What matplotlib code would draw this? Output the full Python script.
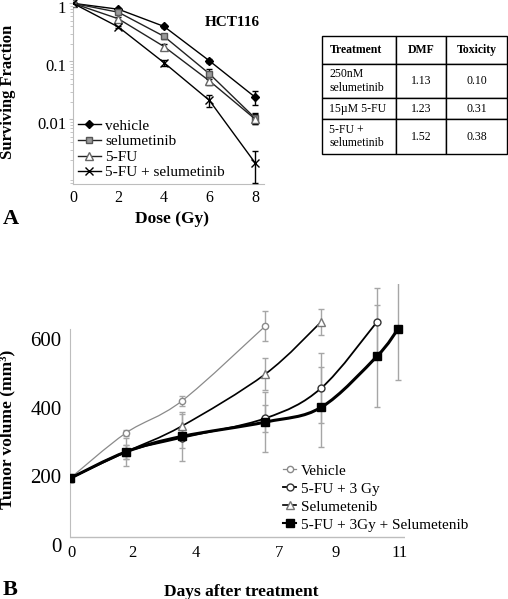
import numpy as np
import matplotlib
matplotlib.use('Agg')
import matplotlib.pyplot as plt
from matplotlib.path import Path
from matplotlib.patches import PathPatch
from matplotlib.lines import Line2D
from matplotlib.transforms import ScaledTranslation

plt.rcParams['font.family'] = ['Liberation Serif', 'DejaVu Serif']

# ---- panel A: clonogenic survival ----
dose = [0, 2, 4, 6, 8]
sf_vehicle = [1.0, 0.79, 0.40, 0.102, 0.0243]
sf_vehicle_err = [0.02, 0.03, 0.03, 0.008, 0.0067]
sf_selu = [1.0, 0.70, 0.27, 0.061, 0.0106]
sf_selu_err = [0.02, 0.03, 0.03, 0.012, 0.0022]
sf_5fu = [1.0, 0.54, 0.18, 0.046, 0.0102]
sf_5fu_err = [0.02, 0.03, 0.02, 0.0075, 0.002]
sf_combo = [1.0, 0.39, 0.095, 0.0212, 0.0018]
sf_combo_err = [0.02, 0.02, 0.012, 0.0046, 0.001]
sf_labels = ['vehicle', 'selumetinib', '5-FU', '5-FU + selumetinib']

# ---- DMF table ----
table_cols = ['Treatment', 'DMF', 'Toxicity']
table_treat = ['250nM\nselumetinib', '15µM 5-FU', '5-FU +\nselumetinib']
table_dmf = ['1.13', '1.23', '1.52']
table_tox = ['0.10', '0.31', '0.38']

# ---- panel B: tumour growth ----
days_vehicle = [0, 2, 4, 7]
vol_vehicle = [194, 326, 419, 638]
err_vehicle = [12, 10, 15, 43]
days_fu3 = [0, 2, 4, 7, 9, 11]
vol_fu3 = [194, 271, 312, 369, 457, 650]
err_fu3 = [10, 20, 30, 40, 102, 98]
days_selu = [0, 2, 4, 7, 9]
vol_selu = [194, 271, 346, 498, 650]
err_selu = [10, 20, 35, 47, 38]
days_combo = [0, 2, 4, 7, 9, 11, 11.75]
vol_combo = [194, 271, 316, 358, 401, 550, 629]
err_combo = [10, 40, 71, 88, 117, 148, 148]
b_labels = ['Vehicle', '5-FU + 3 Gy', 'Selumetenib', '5-FU + 3Gy + Selumetenib']
day_ticklabels = ['0', '2', '4', '7', '9', '11']
day_tickpos = [0.05, 2.25, 4.5, 7.5, 9.5, 11.82]


def smooth_path(x, y):
    # Excel-like smoothed line (Catmull-Rom -> cubic Bezier)
    p = np.column_stack([x, y]).astype(float)
    n = len(p)
    verts = [p[0]]
    for i in range(n - 1):
        p0 = p[i - 1] if i > 0 else p[i]
        p3 = p[i + 2] if i + 2 < n else p[i + 1]
        verts.append(p[i] + (p[i + 1] - p0) / 6)
        verts.append(p[i + 1] - (p3 - p[i]) / 6)
        verts.append(p[i + 1])
    codes = [Path.MOVETO] + [Path.CURVE4] * (3 * (n - 1))
    return Path(verts, codes)


fig = plt.figure(figsize=(5.08, 5.99), dpi=100)
gray = '#bdbdbd'

# ---------------- panel A ----------------
ax1 = fig.add_axes([73 / 508, 1 - 184 / 599, 191 / 508, 184 / 599])
styles = [
    dict(marker='D', ms=4.5, mfc='black', mec='black', color='black'),
    dict(marker='s', ms=5, mfc='#9a9a9a', mec='#555555', color='#222222'),
    dict(marker='^', ms=5.5, mfc='white', mec='#666666', color='#222222'),
    dict(marker='x', ms=6, mfc='black', mec='black', color='black'),
]
handles = []
for vals, errs, st in zip([sf_vehicle, sf_selu, sf_5fu, sf_combo],
                          [sf_vehicle_err, sf_selu_err, sf_5fu_err, sf_combo_err],
                          styles):
    c = ax1.errorbar(dose, vals, yerr=errs, lw=1, elinewidth=1, capsize=2.5,
                     ecolor='black', zorder=3, **st)
    handles.append(c[0])

ax1.set_yscale('log')
ax1.set_ylim(0.00077, 1.14)
ax1.set_xlim(0, 8.4)
ax1.set_yticks([1, 0.1, 0.01])
ax1.set_yticklabels(['1', '0.1', '0.01'])
ax1.set_xticks(dose)
ax1.tick_params(axis='y', which='major', labelsize=12, length=3, color=gray, pad=2)
ax1.tick_params(axis='y', which='minor', length=2, color=gray)
ax1.tick_params(axis='x', labelsize=11.5, length=0, pad=4.5)
shift = ScaledTranslation(0, -3.5 / 100, fig.dpi_scale_trans)
for lab in ax1.get_yticklabels():
    lab.set_transform(lab.get_transform() + shift)
for s in ['top', 'right']:
    ax1.spines[s].set_visible(False)
for s in ['left', 'bottom']:
    ax1.spines[s].set_color(gray)
ax1.set_xlabel('Dose (Gy)', fontsize=12.5, fontweight='bold')
ax1.xaxis.set_label_coords(0.518, -0.145)
ax1.set_ylabel('Surviving Fraction', fontsize=12, fontweight='bold')
ax1.yaxis.set_label_coords(-0.30, 0.5)
ax1.text(0.832, 0.88, 'HCT116', transform=ax1.transAxes, ha='center',
         va='center', fontsize=11, fontweight='bold')
ax1.legend(handles, sf_labels, loc='lower left', bbox_to_anchor=(0.0, 0.0),
           frameon=False, fontsize=11, handlelength=1.5, handletextpad=0.3,
           labelspacing=0.12, borderpad=0.1, borderaxespad=0.2)
fig.text(0.006, 1 - 219 / 599, 'A', fontsize=16, fontweight='bold', va='center')

# ---------------- table ----------------
ax3 = fig.add_axes([322 / 508, 1 - 154 / 599, 185 / 508, 118 / 599])
ax3.axis('off')
cell_text = [[t, d, x] for t, d, x in zip(table_treat, table_dmf, table_tox)]
tab = ax3.table(cellText=cell_text, colLabels=table_cols, bbox=[0, 0, 1, 1],
                colWidths=[0.4, 0.27, 0.33], cellLoc='center')
tab.auto_set_font_size(False)
tab.set_fontsize(8.5)
row_h = [28, 34, 21, 35]
for (r, c), cell in tab.get_celld().items():
    cell.set_height(row_h[r] / 118)
    cell.set_linewidth(1)
    cell.set_edgecolor('black')
    if c == 0:
        cell.get_text().set_ha('left')
        cell._loc = 'left'
    if r == 0:
        cell.get_text().set_fontweight('bold')

# ---------------- panel B ----------------
ax2 = fig.add_axes([70 / 508, 1 - 545 / 599, 335 / 508, 261 / 599])
series = [
    (days_vehicle, vol_vehicle, err_vehicle, '#8a8a8a', 0.9,
     dict(marker='o', ms=4.5, mfc='white', mec='#8a8a8a')),
    (days_fu3, vol_fu3, err_fu3, 'black', 1.3,
     dict(marker='o', ms=5, mfc='white', mec='#333333')),
    (days_selu, vol_selu, err_selu, 'black', 1.2,
     dict(marker='^', ms=5.5, mfc='white', mec='#777777')),
    (days_combo, vol_combo, err_combo, 'black', 2.2,
     dict(marker='s', ms=5.5, mfc='black', mec='black')),
]
leg_handles = []
for x, y, e, col, lw, mk in series:
    ax2.errorbar(x, y, yerr=e, ls='none', ecolor='#a6a6a6', elinewidth=1,
                 capsize=2.5, zorder=2)
    ax2.add_patch(PathPatch(smooth_path(x, y), fill=False, edgecolor=col,
                            lw=lw, zorder=3))
    ax2.plot(x, y, ls='none', zorder=4, **mk)
    leg_handles.append(Line2D([], [], color=col, lw=min(lw, 1.5), **mk))

ax2.set_xlim(0, 12)
ax2.set_ylim(0, 760)
ax2.set_yticks([0, 200, 400, 600])
ax2.set_xticks(day_tickpos)
ax2.set_xticklabels(day_ticklabels)
ax2.tick_params(axis='y', labelsize=15, length=0, pad=6)
ax2.tick_params(axis='x', labelsize=12, length=0, pad=0)
for s in ['top', 'right', 'bottom']:
    ax2.spines[s].set_visible(False)
ax2.spines['left'].set_color(gray)
ax2.spines['left'].set_bounds(22, 630)
ax2.axhline(22, color=gray, lw=1, zorder=1)
ax2.set_xlabel('Days after treatment', fontsize=12.5, fontweight='bold')
ax2.xaxis.set_label_coords(0.51, -0.148)
ax2.set_ylabel('Tumor volume (mm³)', fontsize=12.5, fontweight='bold')
ax2.yaxis.set_label_coords(-0.164, 0.444)
ax2.legend(leg_handles, b_labels, loc='upper left', bbox_to_anchor=(0.635, 0.31),
           frameon=False, fontsize=11, handlelength=0.9, handletextpad=0.3,
           labelspacing=0.28, borderpad=0, borderaxespad=0)
fig.text(0.006, 1 - 590 / 599, 'B', fontsize=16, fontweight='bold', va='center')

fig.savefig('out.png', dpi=100)
